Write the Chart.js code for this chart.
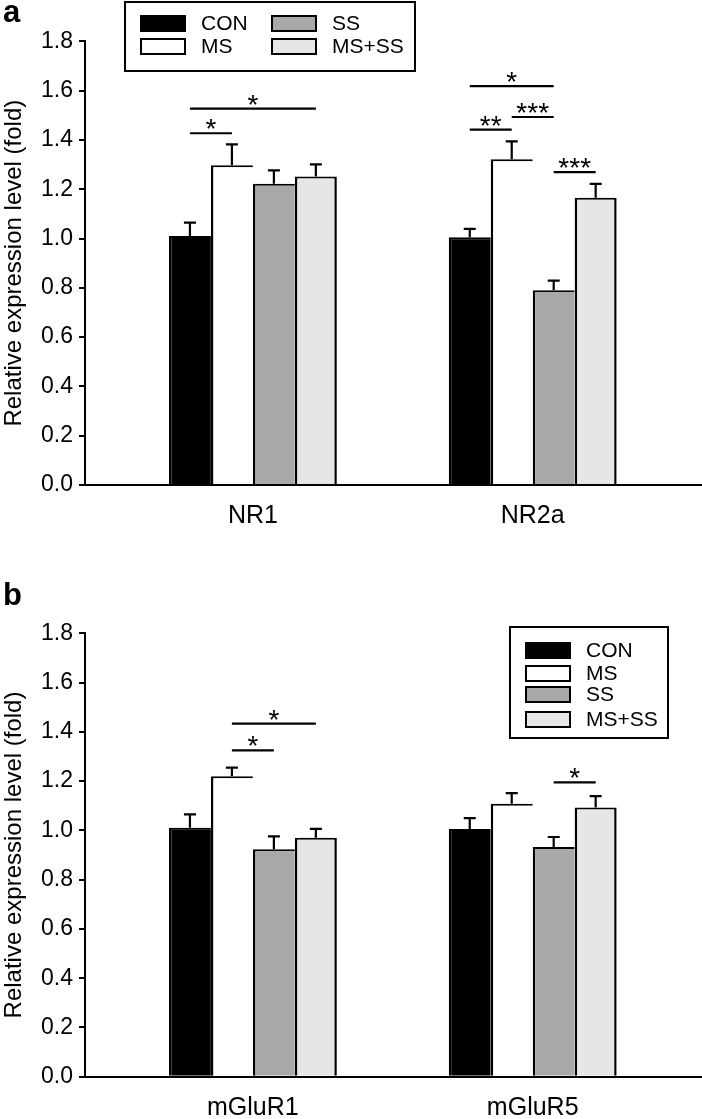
<!DOCTYPE html>
<html lang="en">
<head>
<meta charset="utf-8">
<title>Relative expression level</title>
<script src="https://cdn.jsdelivr.net/npm/chart.js@4.4.1/dist/chart.umd.min.js"></script>
<style>
  html, body { margin: 0; padding: 0; background: #fff; }
  .page { position: relative; width: 702px; height: 1119px; }
  .panel { position: absolute; left: 0; width: 702px; }
  .letter { position: absolute; left: 3px; font: bold 31px "Liberation Sans", Arial, sans-serif; color: #000; }
</style>
</head>
<body>
<div class="page">
  <div class="panel" style="top:0;height:560px"><canvas id="chartA" width="702" height="560"></canvas></div>
  <div class="panel" style="top:560px;height:559px"><canvas id="chartB" width="702" height="559"></canvas></div>
  <div class="letter" style="top:-6px">a</div>
  <div class="letter" style="top:577px">b</div>
</div>

<script>
  // groups and treatments
  const groupsA = ['NR1', 'NR2a'];
  const groupsB = ['mGluR1', 'mGluR5'];
  const treatments = ['CON', 'MS', 'SS', 'MS+SS'];
  const fills = ['#000000', '#ffffff', '#a8a8a8', '#e6e6e6'];

  // panel a means / SEM (per treatment, one value per group)
  const conA = [1.01, 1.005];
  const msA = [1.297, 1.321];
  const ssA = [1.222, 0.79];
  const msssA = [1.252, 1.165];
  const conErrA = [0.054, 0.034];
  const msErrA = [0.085, 0.073];
  const ssErrA = [0.054, 0.039];
  const msssErrA = [0.049, 0.057];

  // panel b
  const conB = [1.011, 1.006];
  const msB = [1.22, 1.108];
  const ssB = [0.923, 0.932];
  const msssB = [0.97, 1.093];
  const conErrB = [0.054, 0.044];
  const msErrB = [0.035, 0.043];
  const ssErrB = [0.053, 0.041];
  const msssErrB = [0.036, 0.046];

  // significance: [group, treatment from, treatment to, level, label]
  const sigA = [
    [0, 0, 1, 1.427, '*'],
    [0, 0, 3, 1.527, '*'],
    [1, 0, 2, 1.618, '*'],
    [1, 0, 1, 1.442, '**'],
    [1, 1, 2, 1.493, '***'],
    [1, 2, 3, 1.269, '***']
  ];
  const sigB = [
    [0, 1, 2, 1.325, '*'],
    [0, 1, 3, 1.433, '*'],
    [1, 2, 3, 1.195, '*']
  ];

  const yTicks = [0, 0.2, 0.4, 0.6, 0.8, 1.0, 1.2, 1.4, 1.6, 1.8];

  Chart.defaults.font.family = '"Liberation Sans", Arial, sans-serif';
  Chart.defaults.color = '#000';

  // upper error bars + significance lines
  const errorBars = {
    id: 'errorBars',
    afterDatasetsDraw(chart, args, opts) {
      const ctx = chart.ctx;
      const y = chart.scales.y;
      ctx.save();
      ctx.strokeStyle = '#000';
      ctx.lineWidth = 2.2;
      chart.data.datasets.forEach((ds, i) => {
        chart.getDatasetMeta(i).data.forEach((bar, j) => {
          const top = y.getPixelForValue(ds.data[j].y + ds.errors[j]);
          ctx.beginPath();
          ctx.moveTo(bar.x, bar.y);
          ctx.lineTo(bar.x, top);
          ctx.moveTo(bar.x - 6, top);
          ctx.lineTo(bar.x + 6, top);
          ctx.stroke();
        });
      });
      ctx.fillStyle = '#000';
      ctx.font = '28px "Liberation Sans", Arial, sans-serif';
      ctx.textAlign = 'center';
      ctx.textBaseline = 'alphabetic';
      (opts.marks || []).forEach(m => {
        const a = chart.getDatasetMeta(m[1]).data[m[0]];
        const b = chart.getDatasetMeta(m[2]).data[m[0]];
        const py = y.getPixelForValue(m[3]);
        ctx.beginPath();
        ctx.moveTo(a.x, py);
        ctx.lineTo(b.x, py);
        ctx.stroke();
        ctx.fillText(m[4], (a.x + b.x) / 2, py + 5);
      });
      ctx.restore();
    }
  };

  // boxed legend like the original figure
  const boxLegend = {
    id: 'boxLegend',
    afterDraw(chart, args, opts) {
      const ctx = chart.ctx;
      const b = opts.box;
      ctx.save();
      ctx.strokeStyle = '#000';
      ctx.lineWidth = 2;
      ctx.strokeRect(b[0], b[1], b[2], b[3]);
      ctx.font = '21px "Liberation Sans", Arial, sans-serif';
      ctx.textBaseline = 'middle';
      ctx.textAlign = 'left';
      chart.data.datasets.forEach((ds, i) => {
        const p = opts.items[i];
        ctx.fillStyle = ds.backgroundColor;
        ctx.fillRect(p[0], p[1], 44, 15);
        ctx.strokeRect(p[0], p[1], 44, 15);
        ctx.fillStyle = '#000';
        ctx.fillText(ds.label, p[0] + 60, p[1] + 8);
      });
      ctx.restore();
    }
  };

  function makeDatasets(means, errs) {
    return treatments.map((t, i) => ({
      label: t,
      data: means[i].map((v, j) => ({ x: j, y: v })),
      errors: errs[i],
      backgroundColor: fills[i],
      borderColor: '#000',
      borderWidth: { top: 2, left: 2.5, right: i === 3 ? 2.5 : 0, bottom: 0 },
      borderSkipped: false,
      inflateAmount: 0,
      categoryPercentage: 0.6,
      barPercentage: 1.0
    }));
  }

  function makeChart(el, groups, datasets, marks, legend, padTop, xHeight) {
    return new Chart(el, {
      type: 'bar',
      data: { datasets: datasets },
      plugins: [errorBars, boxLegend],
      options: {
        responsive: false,
        animation: false,
        layout: { padding: { top: padTop, right: 0, left: 0, bottom: 0 } },
        plugins: {
          legend: { display: false },
          tooltip: { enabled: false },
          errorBars: { marks: marks },
          boxLegend: legend
        },
        scales: {
          x: {
            type: 'linear',
            offset: false,
            min: -0.6,
            max: 1.605,
            afterBuildTicks: s => { s.ticks = groups.map((g, i) => ({ value: i })); },
            afterFit: s => { s.height = xHeight; },
            ticks: {
              callback: v => groups[v],
              font: { size: 25 },
              padding: 16,
              autoSkip: false,
              maxRotation: 0
            },
            grid: { display: false, drawTicks: false, offset: false },
            border: { color: '#000', width: 2 }
          },
          y: {
            min: 0,
            max: 1.8,
            afterBuildTicks: s => { s.ticks = yTicks.map(v => ({ value: v })); },
            afterFit: s => { s.width = 85; },
            ticks: {
              callback: v => v.toFixed(1),
              font: { size: 23 },
              padding: 6
            },
            grid: { display: true, drawOnChartArea: false, drawTicks: true, tickLength: 6, color: '#000', lineWidth: 2 },
            border: { color: '#000', width: 2 },
            title: {
              display: true,
              text: 'Relative expression level (fold)',
              font: { size: 24 },
              padding: { top: 0, bottom: 0 }
            }
          }
        }
      }
    });
  }

  makeChart(
    document.getElementById('chartA'),
    groupsA,
    makeDatasets([conA, msA, ssA, msssA], [conErrA, msErrA, ssErrA, msssErrA]),
    sigA,
    { box: [125, 2, 290, 69], items: [[141, 16], [141, 39], [272, 16], [272, 39]] },
    41.3,
    75
  );

  makeChart(
    document.getElementById('chartB'),
    groupsB,
    makeDatasets([conB, msB, ssB, msssB], [conErrB, msErrB, ssErrB, msssErrB]),
    sigB,
    { box: [510, 67, 158, 111], items: [[526, 83], [526, 106], [526, 127], [526, 152]] },
    73.3,
    42.3
  );
</script>
</body>
</html>
